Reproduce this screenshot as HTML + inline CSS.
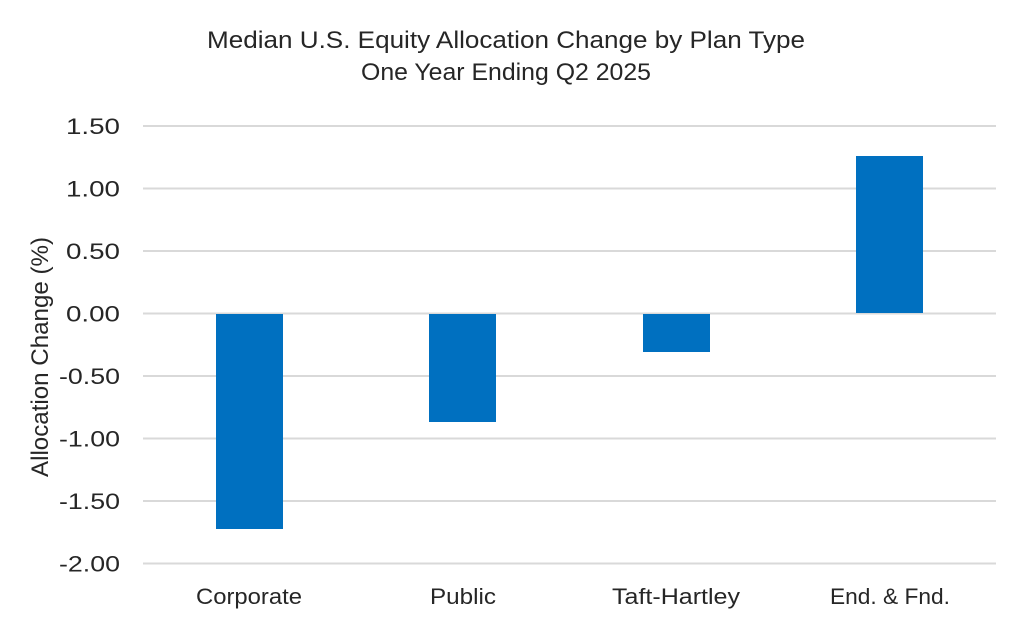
<!DOCTYPE html>
<html><head><style>
body{margin:0;background:#fff;}
svg text{font-family:"Liberation Sans",sans-serif;fill:#262626;}
</style></head><body>
<svg width="1024" height="635" xmlns="http://www.w3.org/2000/svg">
<text x="506" y="48" font-size="24" text-anchor="middle" textLength="598" lengthAdjust="spacingAndGlyphs">Median U.S. Equity Allocation Change by Plan Type</text>
<text x="506" y="80" font-size="24" text-anchor="middle" textLength="290" lengthAdjust="spacingAndGlyphs">One Year Ending Q2 2025</text>
<g stroke="#d9d9d9" stroke-width="2">
<line x1="143" x2="996" y1="126" y2="126"/>
<line x1="143" x2="996" y1="188.5" y2="188.5"/>
<line x1="143" x2="996" y1="251" y2="251"/>
<line x1="143" x2="996" y1="313.5" y2="313.5"/>
<line x1="143" x2="996" y1="376" y2="376"/>
<line x1="143" x2="996" y1="438.5" y2="438.5"/>
<line x1="143" x2="996" y1="501" y2="501"/>
<line x1="143" x2="996" y1="563.5" y2="563.5"/>
</g>
<g font-size="22" text-anchor="end">
<text x="120" y="134" textLength="54" lengthAdjust="spacingAndGlyphs">1.50</text>
<text x="120" y="196.5" textLength="54" lengthAdjust="spacingAndGlyphs">1.00</text>
<text x="120" y="259" textLength="54" lengthAdjust="spacingAndGlyphs">0.50</text>
<text x="120" y="321.5" textLength="54" lengthAdjust="spacingAndGlyphs">0.00</text>
<text x="120" y="384" textLength="61" lengthAdjust="spacingAndGlyphs">-0.50</text>
<text x="120" y="446.5" textLength="61" lengthAdjust="spacingAndGlyphs">-1.00</text>
<text x="120" y="509" textLength="61" lengthAdjust="spacingAndGlyphs">-1.50</text>
<text x="120" y="571.5" textLength="61" lengthAdjust="spacingAndGlyphs">-2.00</text>
</g>
<g fill="#0070C0">
<rect x="216" y="314" width="67" height="215"/>
<rect x="429" y="314" width="67" height="108"/>
<rect x="643" y="314" width="67" height="38"/>
<rect x="856" y="156" width="67" height="157"/>
</g>
<g font-size="22" text-anchor="middle">
<text x="249" y="604" textLength="106" lengthAdjust="spacingAndGlyphs">Corporate</text>
<text x="463" y="604" textLength="66" lengthAdjust="spacingAndGlyphs">Public</text>
<text x="676" y="604" textLength="128" lengthAdjust="spacingAndGlyphs">Taft-Hartley</text>
<text x="890" y="604" textLength="120" lengthAdjust="spacingAndGlyphs">End. &amp; Fnd.</text>
</g>
<text transform="translate(48,357) rotate(-90)" font-size="24" text-anchor="middle" textLength="240" lengthAdjust="spacingAndGlyphs">Allocation Change (%)</text>
</svg>
</body></html>
